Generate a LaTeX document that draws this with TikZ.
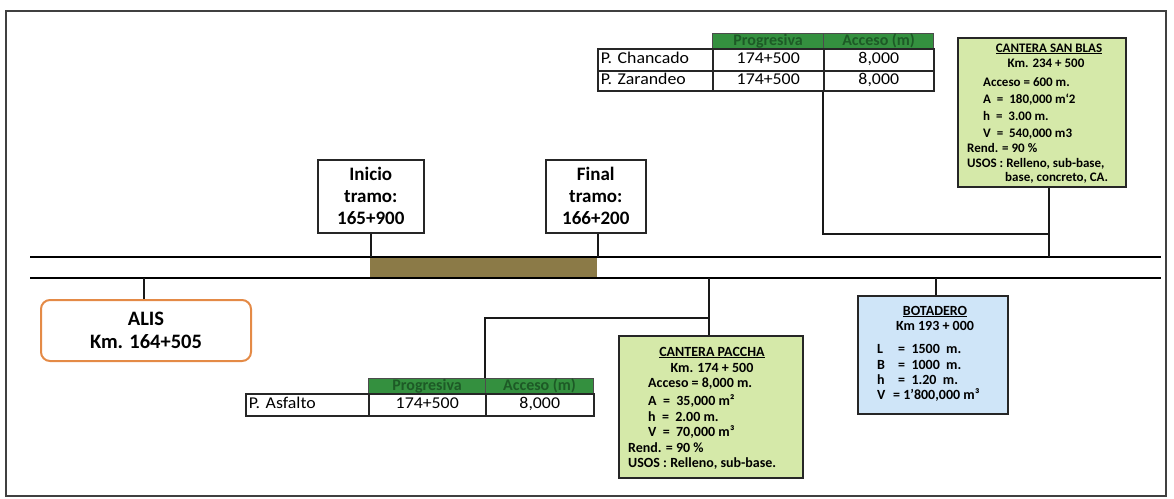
\documentclass[tikz,border=0pt]{standalone}
\usepackage{fontspec}
\setmainfont{Carlito}
\newfontfamily\tabfont{Carlito}[FakeStretch=1.08]
\definecolor{hdrgreen}{HTML}{34903F}
\definecolor{hdrtext}{HTML}{1D5A26}
\definecolor{lgreen}{HTML}{D5E9A9}
\definecolor{lblue}{HTML}{CFE5F8}
\definecolor{orng}{HTML}{E48A46}
\definecolor{brownfill}{HTML}{8B7A47}
\begin{document}
\begin{tikzpicture}[x=1pt,y=-1pt,
  conn/.style={line width=1.5pt, draw=black!90},
  road/.style={line width=2.6pt, draw=black},
  box/.style={draw=black!85, line width=1.6pt, anchor=north west, inner sep=0pt},
  hdr/.style={draw=black!70, line width=1.2pt, fill=hdrgreen, anchor=north west, inner sep=0pt, text=hdrtext, font=\bfseries\fontsize{16}{16}\selectfont, text height=11pt, text depth=3pt},
  cell/.style={draw=black!85, line width=1.5pt, anchor=north west, inner sep=0pt, font=\tabfont\fontsize{16.5}{18}\selectfont, text height=11pt, text depth=3pt},
  lcell/.style={cell, inner xsep=3pt, align=left},
  txt/.style={anchor=base west, inner sep=0pt},
  ctxt/.style={anchor=base, inner sep=0pt},
  sbfont/.style={font=\bfseries\fontsize{13}{15}\selectfont},
  pafont/.style={font=\bfseries\fontsize{14}{15}\selectfont},
]
\useasboundingbox (0,0) rectangle (1174,498);
% outer frame
\draw[line width=1.3pt, black!75] (6,11) rectangle (1166,496);

% road
\fill[brownfill] (370,257) rectangle (597,278);
\coordinate (rtl) at (30,257);
\coordinate (rtr) at (1161,257);
\coordinate (rbl) at (30,278);
\coordinate (rbr) at (1161,278);
\draw[road] (rtl) -- (rtr);
\draw[road] (rbl) -- (rbr);

% Inicio / Final
\node[box, minimum width=106, minimum height=73, align=center, font=\bfseries\fontsize{19}{22}\selectfont] (inicio) at (317,159) {Inicio\\tramo:\\165+900};
\node[box, minimum width=100, minimum height=73, align=center, font=\bfseries\fontsize{19}{22}\selectfont] (final) at (545,159) {Final\\tramo:\\166+200};
\draw[conn] (inicio.south) -- (inicio.south |- rtl);
\draw[conn] ([xshift=2]final.south) -- ([xshift=2]final.south |- rtl);

% ALIS
\node[draw=orng, line width=2pt, rounded corners=9pt, anchor=north west, minimum width=210, minimum height=61, align=center, font=\bfseries\fontsize{20.5}{23}\selectfont] (alis) at (40,299) {ALIS\\Km. 164+505};
\draw[conn] ([xshift=-2]alis.north) -- ([xshift=-2]alis.north |- rbl);

% Top table
\node[hdr, minimum width=111, minimum height=15] (chH1) at (712,33) {Progresiva};
\node[hdr, minimum width=110, minimum height=15] (chH2) at (823,33) {Acceso (m)};
\node[lcell, text width=109, minimum height=22] (ch1a) at (597,48) {P. Chancado};
\node[cell, minimum width=111, minimum height=22] (ch1b) at (712,48) {174+500};
\node[cell, minimum width=110, minimum height=22] (ch1c) at (823,48) {8,000};
\node[lcell, text width=109, minimum height=20] (ch2a) at (597,70) {P. Zarandeo};
\node[cell, minimum width=111, minimum height=20] (ch2b) at (712,70) {174+500};
\node[cell, minimum width=110, minimum height=20] (ch2c) at (823,70) {8,000};

% Cantera San Blas
\node[box, fill=lgreen, minimum width=168, minimum height=149] (sanblas) at (957,37) {};
\node[ctxt, sbfont] (sb1) at (1049,52) {\underline{CANTERA SAN BLAS}};
\node[ctxt, sbfont] (sb2) at (1046,67) {Km. 234 + 500};
\node[txt, sbfont] (sb3) at (983,86) {Acceso = 600 m.};
\node[txt, sbfont] (sb4) at (983,103) {A \ = \ 180,000 m`2};
\node[txt, sbfont] (sb5) at (983,120) {h \ = \ 3.00 m.};
\node[txt, sbfont] (sb6) at (983,137) {V \ = \ 540,000 m3};
\node[txt, sbfont] (sb7) at (967,152) {Rend. = 90 \%};
\node[txt, sbfont] (sb8) at (967,167) {USOS : Relleno, sub-base,};
\node[txt, sbfont] (sb9) at (1005,181) {base, concreto, CA.};

\coordinate (j1) at (1048,234);
\draw[conn] (ch2c.south west) |- (j1);
\draw[conn] ([xshift=7]sanblas.south) -- ([xshift=7]sanblas.south |- rtl);

% Botadero
\node[box, fill=lblue, minimum width=150, minimum height=118] (bot) at (857,295) {};
\node[ctxt, pafont] (bt1) at (935,315) {\underline{BOTADERO}};
\node[ctxt, pafont] (bt2) at (935,330) {Km 193 + 000};
\node[txt, pafont] (bt3) at (877,353) {\makebox[21pt][l]{L}= \ 1500 \ m.};
\node[txt, pafont] (bt4) at (877,369) {\makebox[21pt][l]{B}= \ 1000 \ m.};
\node[txt, pafont] (bt5) at (877,384) {\makebox[21pt][l]{h}= \ 1.20 \ m.};
\node[txt, pafont] (bt6) at (877,399) {\makebox[16pt][l]{V}= 1'800,000 m³};
\draw[conn] ([xshift=3]bot.north) -- ([xshift=3]bot.north |- rbl);

% Cantera Paccha
\node[box, fill=lgreen, minimum width=184, minimum height=142] (paccha) at (618,335) {};
\node[ctxt, pafont] (pa1) at (712,356) {\underline{CANTERA PACCHA}};
\node[ctxt, pafont] (pa2) at (712,372) {Km. 174 + 500};
\node[txt, pafont] (pa3) at (648,387) {Acceso = 8,000 m.};
\node[txt, pafont] (pa4) at (648,405) {A \ = \ 35,000 m²};
\node[txt, pafont] (pa5) at (648,421) {h \ = \ 2.00 m.};
\node[txt, pafont] (pa6) at (648,436) {V \ = \ 70,000 m³};
\node[txt, pafont] (pa7) at (628,452) {Rend. = 90 \%};
\node[txt, pafont] (pa8) at (628,467) {USOS : Relleno, sub-base.};
\draw[conn] ([xshift=-2]paccha.north) -- ([xshift=-2]paccha.north |- rbl);

% Asfalto table
\node[hdr, minimum width=117, minimum height=15] (asH1) at (368,378) {Progresiva};
\node[hdr, minimum width=108, minimum height=15] (asH2) at (485,378) {Acceso (m)};
\node[lcell, text width=117, minimum height=22] (as1a) at (245,393) {P. Asfalto};
\node[cell, minimum width=117, minimum height=22] (as1b) at (368,393) {174+500};
\node[cell, minimum width=108, minimum height=22] (as1c) at (485,393) {8,000};

\coordinate (j2) at (708,318);
\draw[conn] (asH2.north west) |- (j2);
\end{tikzpicture}
\end{document}
